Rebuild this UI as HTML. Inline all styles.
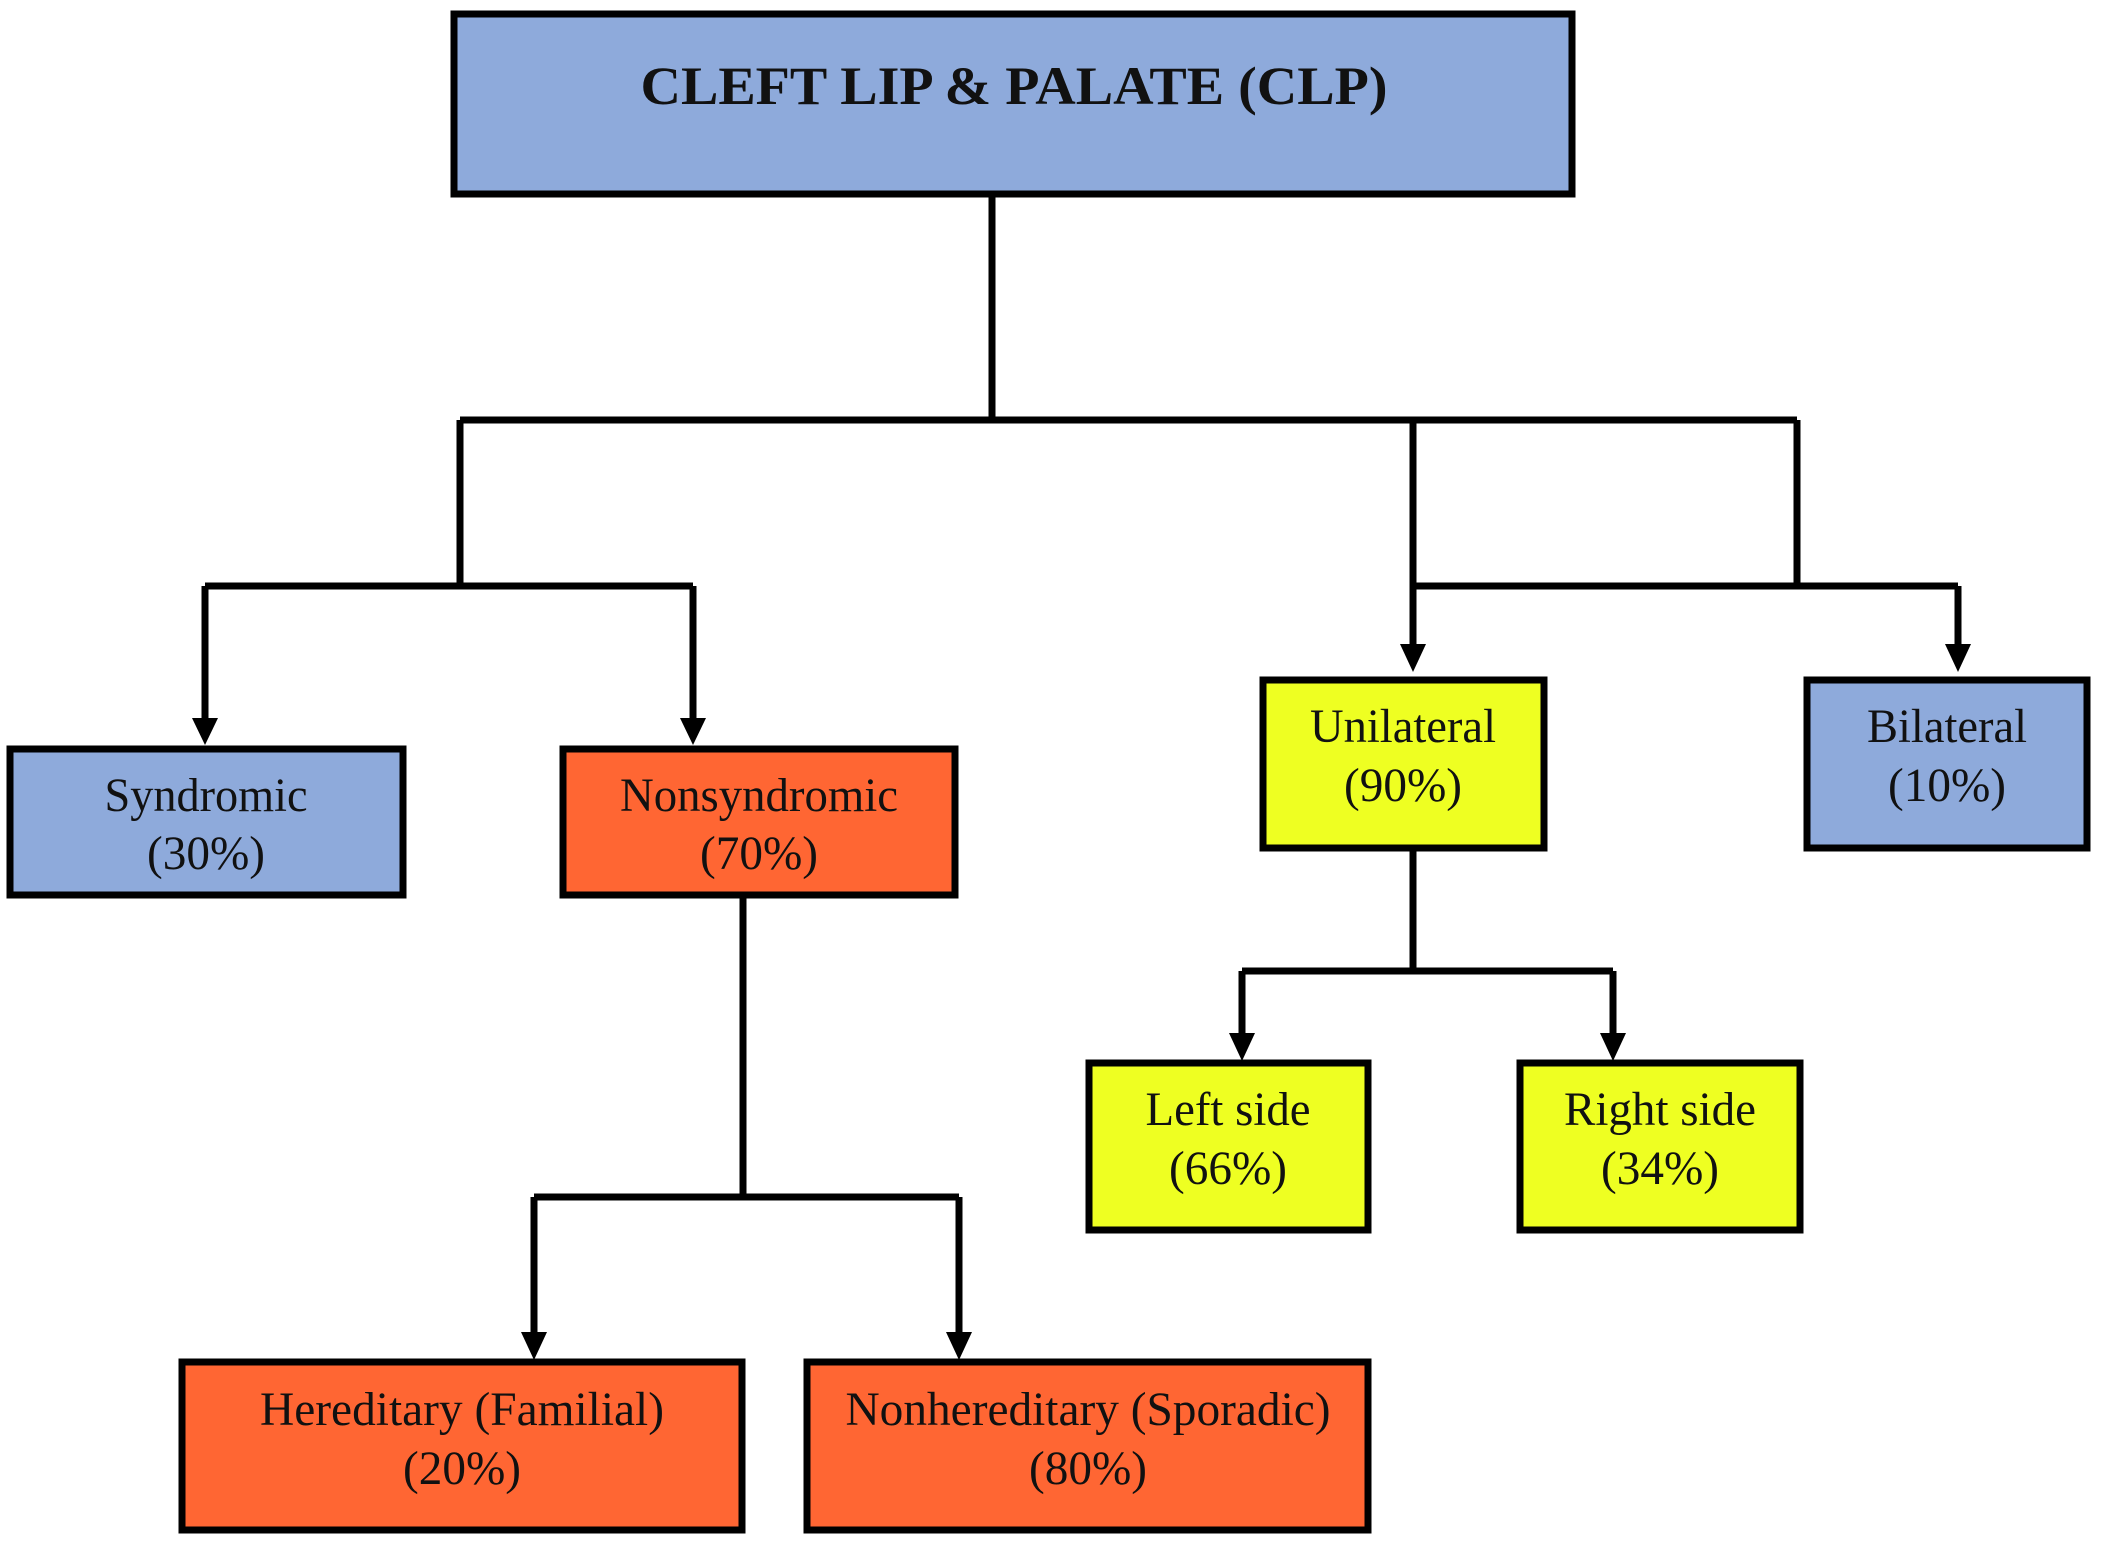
<!DOCTYPE html>
<html><head><meta charset="utf-8"><style>html,body{margin:0;padding:0;background:#fff}svg{display:block}</style></head>
<body>
<svg width="2103" height="1544" viewBox="0 0 2103 1544" xmlns="http://www.w3.org/2000/svg" font-family="'Liberation Serif', serif">
<g stroke="#000" stroke-width="7" fill="none">
<path d="M992 194V420M460 420H1797M460 420V586M205 586H693M205 586V725M693 586V725"/>
<path d="M1413 420V652M1797 420V586M1413 586H1958M1958 586V652"/>
<path d="M1413 849V971M1242 971H1613M1242 971V1041M1613 971V1041"/>
<path d="M743 896V1197M534 1197H959M534 1197V1340M959 1197V1340"/>
</g>
<g fill="#000">
<path d="M192 718H218L205 745Z"/><path d="M680 718H706L693 745Z"/>
<path d="M1400 644H1426L1413 672Z"/><path d="M1945 644H1971L1958 672Z"/>
<path d="M1229 1033H1255L1242 1061Z"/><path d="M1600 1033H1626L1613 1061Z"/>
<path d="M521 1332H547L534 1360Z"/><path d="M946 1332H972L959 1360Z"/>
</g>
<g stroke="#000" stroke-width="7">
<rect x="454" y="14" width="1118" height="180" fill="#8EAADB"/>
<rect x="10" y="749" width="393" height="146" fill="#8EAADB"/>
<rect x="563" y="749" width="392" height="146" fill="#FF6633"/>
<rect x="1263" y="680" width="281" height="168" fill="#EEFF22"/>
<rect x="1807" y="680" width="280" height="168" fill="#8EAADB"/>
<rect x="1089" y="1063" width="279" height="167" fill="#EEFF22"/>
<rect x="1520" y="1063" width="280" height="167" fill="#EEFF22"/>
<rect x="182" y="1362" width="560" height="168" fill="#FF6633"/>
<rect x="807" y="1362" width="561" height="168" fill="#FF6633"/>
</g>
<g fill="#111" font-size="48" text-anchor="middle" lengthAdjust="spacingAndGlyphs">
<text x="1014" y="104" font-weight="bold" font-size="54" textLength="747" lengthAdjust="spacingAndGlyphs">CLEFT LIP &amp; PALATE (CLP)</text>
<text x="206" y="811" textLength="203" lengthAdjust="spacingAndGlyphs">Syndromic</text><text x="206" y="869" textLength="118" lengthAdjust="spacingAndGlyphs">(30%)</text>
<text x="759" y="811" textLength="278" lengthAdjust="spacingAndGlyphs">Nonsyndromic</text><text x="759" y="869" textLength="118" lengthAdjust="spacingAndGlyphs">(70%)</text>
<text x="1403" y="742" textLength="186" lengthAdjust="spacingAndGlyphs">Unilateral</text><text x="1403" y="801" textLength="118" lengthAdjust="spacingAndGlyphs">(90%)</text>
<text x="1947" y="742" textLength="160" lengthAdjust="spacingAndGlyphs">Bilateral</text><text x="1947" y="801" textLength="118" lengthAdjust="spacingAndGlyphs">(10%)</text>
<text x="1228" y="1125" textLength="165" lengthAdjust="spacingAndGlyphs">Left side</text><text x="1228" y="1184" textLength="118" lengthAdjust="spacingAndGlyphs">(66%)</text>
<text x="1660" y="1125" textLength="192" lengthAdjust="spacingAndGlyphs">Right side</text><text x="1660" y="1184" textLength="118" lengthAdjust="spacingAndGlyphs">(34%)</text>
<text x="462" y="1425" textLength="404" lengthAdjust="spacingAndGlyphs">Hereditary (Familial)</text><text x="462" y="1484" textLength="118" lengthAdjust="spacingAndGlyphs">(20%)</text>
<text x="1088" y="1425" textLength="485" lengthAdjust="spacingAndGlyphs">Nonhereditary (Sporadic)</text><text x="1088" y="1484" textLength="118" lengthAdjust="spacingAndGlyphs">(80%)</text>
</g>
</svg>
</body></html>
